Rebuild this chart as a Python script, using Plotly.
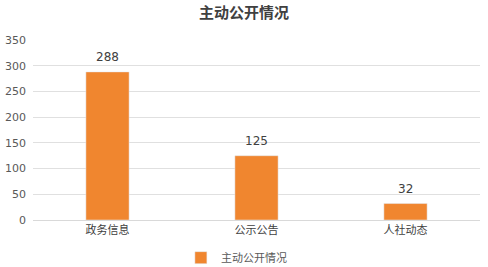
import plotly.graph_objects as go

categories = ["政务信息", "公示公告", "人社动态"]
values = [288, 125, 32]
series_name = "主动公开情况"
title_text = "主动公开情况"

fig = go.Figure()
fig.add_trace(go.Bar(
    x=categories, y=values, name=series_name,
    marker_color="#F0862F", width=0.29,
    cliponaxis=False,
))
for c, v in zip(categories, values):
    fig.add_annotation(x=c, y=v, text=str(v), showarrow=False, yanchor="bottom", yshift=6,
                       font=dict(size=12, color="#404040", family="DejaVu Sans, sans-serif"))
fig.update_layout(
    width=488, height=267,
    margin=dict(l=33, r=8, t=40, b=47, autoexpand=False),
    paper_bgcolor="white", plot_bgcolor="white",
    font=dict(family="DejaVu Sans, Noto Sans CJK SC, sans-serif", color="#595959", size=11),
    title=dict(text="<b>" + title_text + "</b>", x=0.5, xanchor="center", y=0.953, yanchor="middle",
               font=dict(size=15, color="#404040", family="Noto Sans CJK SC, sans-serif")),
    showlegend=True,
    legend=dict(orientation="h", x=0.455, xanchor="center", yref="container", y=0.035, yanchor="middle",
                font=dict(size=11, color="#595959", family="Noto Sans CJK SC, sans-serif"),
                itemwidth=30),
    bargap=0.71,
)
fig.update_yaxes(range=[0, 350], dtick=50, gridcolor="#E0E0E0", gridwidth=1,
                 zeroline=False, showline=False, ticks="", ticklabelstandoff=6,
                 tickfont=dict(size=11, color="#595959"))
fig.update_xaxes(showline=True, linecolor="#D9D9D9", linewidth=1, ticks="",
                 tickfont=dict(size=11, color="#404040", family="Noto Sans CJK SC, sans-serif"))
fig.write_html("out.html")
